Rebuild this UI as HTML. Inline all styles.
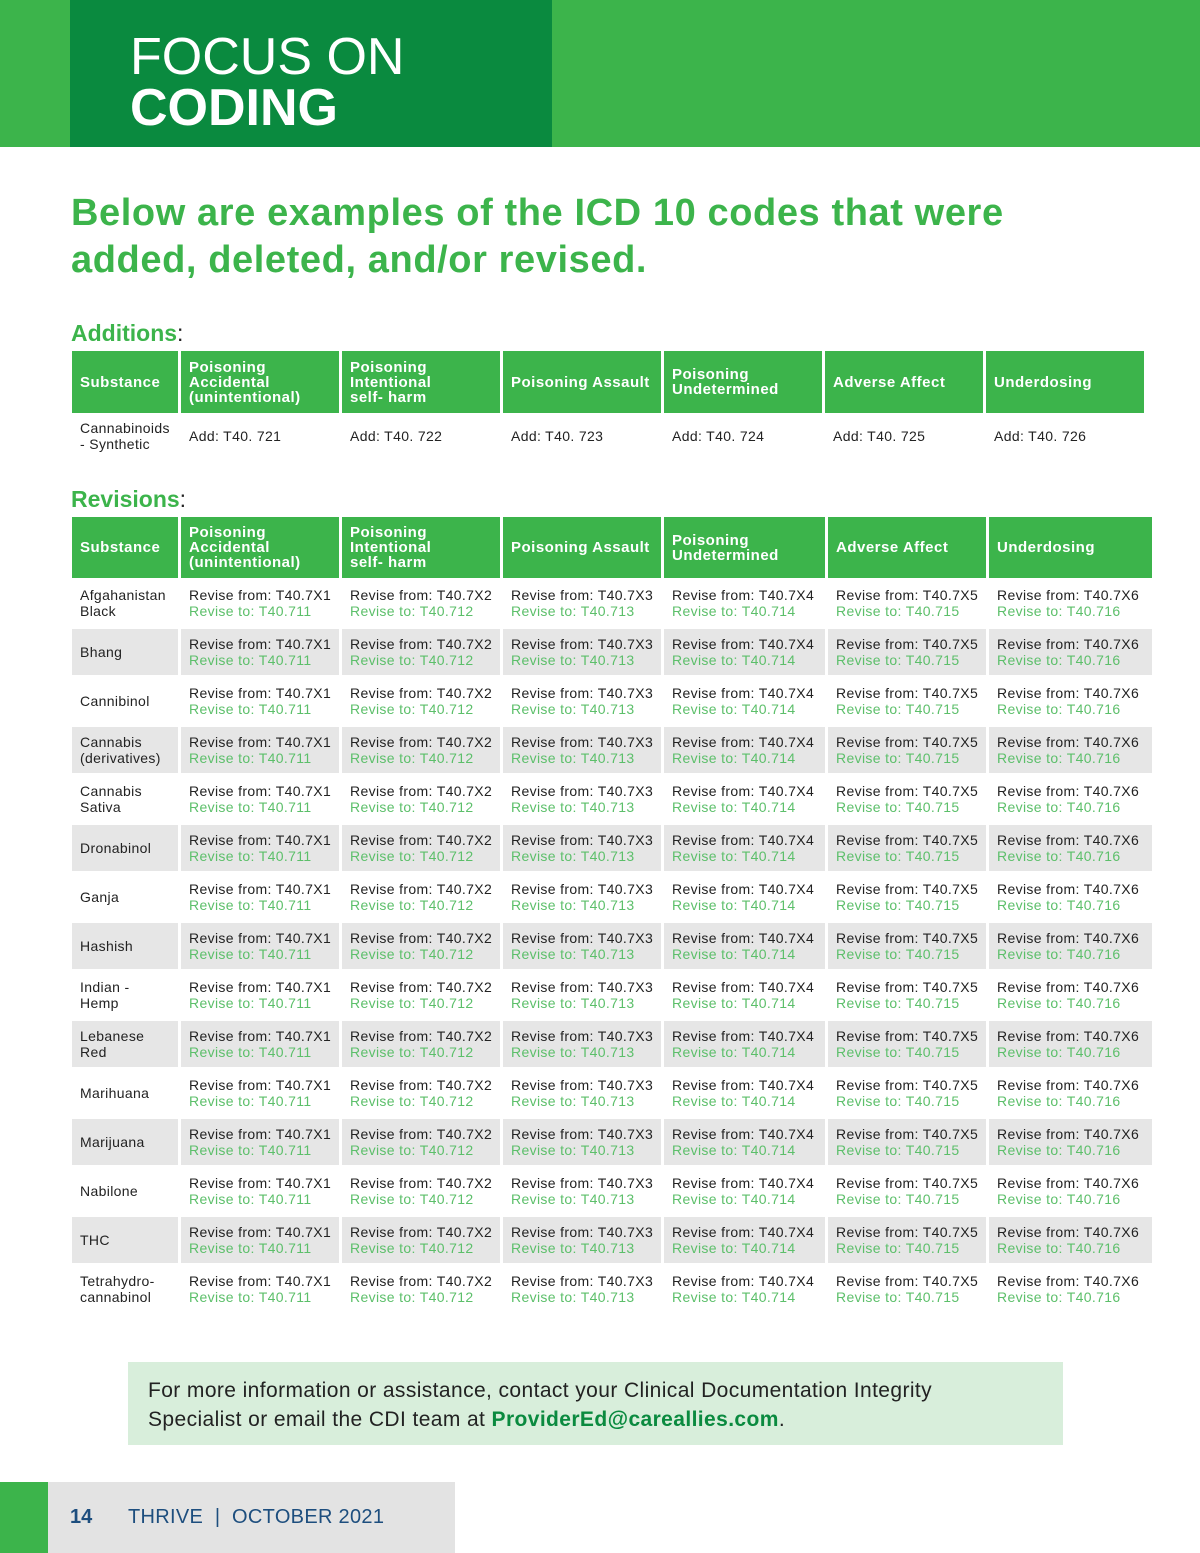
<!DOCTYPE html>
<html><head><meta charset="utf-8"><style>
body{margin:0;width:1200px;height:1553px;position:relative;background:#fff;font-family:"Liberation Sans",sans-serif;overflow:hidden}
.a{position:absolute}
.h{background:#3cb44b;color:#fff;font-weight:bold;font-size:15px;line-height:15px;display:flex;align-items:center;padding-left:8px;box-sizing:border-box;letter-spacing:.5px}
.c{color:#222;font-size:14px;line-height:16px;display:flex;align-items:center;padding-left:8px;box-sizing:border-box;letter-spacing:.35px;white-space:nowrap}
.g{color:#5cbf6a}
</style></head><body>
<div class="a" style="left:0;top:0;width:1200px;height:147px;background:#3cb44b"></div>
<div class="a" style="left:70px;top:0;width:482px;height:147px;background:#0a8a3f"></div>
<div class="a" style="left:130px;top:30px;color:#fff;font-size:52px;line-height:54px">FOCUS ON</div>
<div class="a" style="left:130px;top:81px;color:#fff;font-size:52px;line-height:54px;font-weight:bold">CODING</div>
<div class="a" style="left:71px;top:190px;color:#3cb44b;font-size:38px;line-height:47px;font-weight:bold;width:1000px;letter-spacing:.6px">Below are examples of the ICD 10 codes that were added, deleted, and/or revised.</div>
<div class="a" style="left:71px;top:320px;color:#3cb44b;font-size:23px;font-weight:bold">Additions<span style="color:#222;font-weight:normal">:</span></div>
<div class="a" style="left:71px;top:486px;color:#3cb44b;font-size:23px;font-weight:bold">Revisions<span style="color:#222;font-weight:normal">:</span></div>
<div id="t"></div>
<div class="a" style="left:128px;top:1362px;width:935px;height:83px;background:#d8eedb;box-sizing:border-box;padding:14px 20px;font-size:21px;line-height:29px;color:#222;letter-spacing:.4px">For more information or assistance, contact your Clinical Documentation Integrity<br>Specialist or email the CDI team at <span style="color:#0a8a3f;font-weight:bold">ProviderEd@careallies.com</span>.</div>
<div class="a" style="left:0;top:1482px;width:48px;height:71px;background:#3cb44b"></div>
<div class="a" style="left:48px;top:1482px;width:407px;height:71px;background:#e3e3e3"></div>
<div class="a" style="left:70px;top:1506px;font-size:20px;font-weight:bold;color:#1d4e7e">14</div>
<div class="a" style="left:128px;top:1506px;font-size:20px;color:#1d4e7e;letter-spacing:.3px">THRIVE &nbsp;|&nbsp; OCTOBER 2021</div>
<script>
const heads=["Substance","Poisoning<br>Accidental<br>(unintentional)","Poisoning<br>Intentional<br>self- harm","Poisoning Assault","Poisoning<br>Undetermined","Adverse Affect","Underdosing"];
const substances=["Afgahanistan<br>Black","Bhang","Cannibinol","Cannabis<br>(derivatives)","Cannabis<br>Sativa","Dronabinol","Ganja","Hashish","Indian -<br>Hemp","Lebanese<br>Red","Marihuana","Marijuana","Nabilone","THC","Tetrahydro-<br>cannabinol"];
const fromCodes=["T40.7X1","T40.7X2","T40.7X3","T40.7X4","T40.7X5","T40.7X6"];
const toCodes=["T40.711","T40.712","T40.713","T40.714","T40.715","T40.716"];
const addCodes=["T40. 721","T40. 722","T40. 723","T40. 724","T40. 725","T40. 726"];
const t=document.getElementById('t');
function box(x,y,w,h,cls,html,bg){const d=document.createElement('div');d.className='a '+cls;d.style.cssText=`left:${x}px;top:${y}px;width:${w}px;height:${h}px;`+(bg?`background:${bg};`:'');d.innerHTML=html;t.appendChild(d);return d;}
const colA=[72,181,342,503,664,825,986,1147];
const colR=[72,181,342,503,664,828,989,1155];
heads.forEach((h,i)=>{let d=box(colA[i],351,colA[i+1]-colA[i]-3,62,'h',h);


d=box(colR[i],517,colR[i+1]-colR[i]-3,61,'h',h);

});
let d=box(72,416,106,40,'c','Cannabinoids<br>- Synthetic');


addCodes.forEach((c,i)=>{const e=box(colA[i+1],416,colA[i+2]-colA[i+1]-3,40,'c','Add: '+c);

});
substances.forEach((s,r)=>{const y=580+49*r;const bg=r%2?'#e6e6e6':null;
let e=box(72,y,106,46,'c',s,bg);


fromCodes.forEach((c,i)=>{const f=box(colR[i+1],y,colR[i+2]-colR[i+1]-3,46,'c','<div>Revise from: '+c+'<br><span class="g">Revise to: '+toCodes[i]+'</span></div>',bg);

});});
</script>
</body></html>
